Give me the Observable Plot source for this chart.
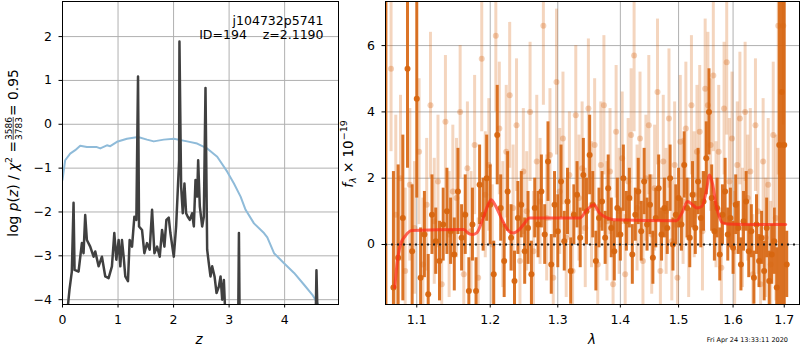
<!DOCTYPE html>
<html><head><meta charset="utf-8">
<script src="https://cdn.jsdelivr.net/npm/d3@7"></script>
<script src="https://cdn.jsdelivr.net/npm/@observablehq/plot@0.6"></script>
<style>
body{margin:0;background:#fff;}
#fig{position:relative;width:800px;height:350px;font-family:"DejaVu Sans",sans-serif;background:#fff;}
</style></head><body><div id="fig"></div>
<script>
// ---------- Left panel: log p(z) ----------
const pzZ = [0.09,0.126,0.168,0.199,0.217,0.289,0.349,0.379,0.409,0.439,0.499,0.560,0.590,0.650,0.710,0.770,0.830,0.890,0.933,0.969,1.011,1.041,1.071,1.101,1.131,1.179,1.209,1.252,1.294,1.330,1.360,1.378,1.432,1.474,1.522,1.570,1.613,1.655,1.703,1.751,1.793,1.835,1.871,1.913,1.943,2.004,2.046,2.076,2.100,2.106,2.136,2.166,2.196,2.226,2.256,2.292,2.334,2.365,2.395,2.425,2.443,2.473,2.515,2.545,2.575,2.605,2.635,2.665,2.695,2.738,2.774,2.816,2.846,2.876,2.906,2.930, null, 3.165,3.177,3.189, null, 4.561,4.573,4.591];
const pzLog = [-4.23,-3.77,-3.36,-1.79,-3.32,-3.36,-2.71,-2.94,-2.07,-2.64,-2.79,-3.02,-2.90,-3.24,-3.02,-3.47,-3.51,-3.24,-2.48,-3.09,-2.64,-3.24,-2.64,-3.02,-3.47,-3.58,-2.64,-2.79,-2.11,-2.18,1.09,-2.33,-2.41,-2.94,-2.71,-2.86,-1.95,-2.94,-2.79,-3.02,-2.41,-2.79,-2.18,-2.13,-2.48,-3.02,-2.33,-1.50,-0.82,1.89,-1.42,-2.03,-1.35,-2.03,-2.11,-2.18,-2.03,-2.33,-1.27,-1.65,-0.82,-1.88,-2.33,-2.11,0.83,-2.86,-3.17,-3.47,-3.24,-3.47,-3.85,-3.70,-3.47,-4.00,-3.55,-4.30, null, -4.3,-2.48,-4.3, null, -4.3,-3.33,-4.3];
const chiZ = [0,0.048,0.138,0.229,0.319,0.439,0.620,0.680,0.800,0.860,0.981,1.161,1.360,1.522,1.643,1.823,2.004,2.244,2.425,2.605,2.786,2.966,3.087,3.207,3.297,3.448,3.628,3.688,3.809,3.989,4.170,4.350,4.500,4.591,4.651];
const chiLog = [-1.27,-0.82,-0.67,-0.59,-0.49,-0.52,-0.52,-0.55,-0.48,-0.50,-0.40,-0.33,-0.29,-0.35,-0.39,-0.35,-0.33,-0.39,-0.44,-0.55,-0.74,-1.08,-1.35,-1.65,-1.95,-2.26,-2.48,-2.58,-2.94,-3.17,-3.39,-3.66,-3.89,-4.08,-4.23];
const zTicks = [0,1,2,3,4];
const pTicks = [-4,-3,-2,-1,0,1,2];
const titleLines = ["j104732p5741", "ID=194\u00a0\u00a0\u00a0\u00a0z=2.1190"];

// ---------- Right panel: spectrum ----------
const darkLam = [1.0605,1.070,1.076,1.082,1.088,1.094,1.100,1.105,1.110,1.115,1.120,1.125,1.130,1.135,1.140,1.145,1.150,1.155,1.160,1.165,1.170,1.175,1.180,1.185,1.190,1.195,1.200,1.205,1.210,1.215,1.220,1.225,1.230,1.235,1.240,1.245,1.250,1.255,1.260,1.265,1.270,1.275,1.280,1.285,1.290,1.295,1.300,1.305,1.310,1.315,1.320,1.325,1.330,1.335,1.340,1.345,1.350,1.355,1.360,1.365,1.370,1.375,1.380,1.385,1.390,1.395,1.400,1.405,1.410,1.415,1.420,1.425,1.430,1.435,1.440,1.445,1.450,1.455,1.460,1.465,1.470,1.475,1.480,1.485,1.490,1.495,1.500,1.505,1.510,1.515,1.520,1.525,1.530,1.535,1.540,1.545,1.550,1.555,1.560,1.565,1.570,1.575,1.580,1.585,1.590,1.595,1.600,1.605,1.610,1.615,1.620,1.625,1.630,1.635,1.640,1.645,1.650,1.655,1.660,1.665,1.670,1.675,1.680,1.685,1.690,1.695,1.700,1.705];
const darkFlux = [9.0,-1.3,-0.4,0.8,5.3,-0.2,4.4,-1.0,0.3,-1.5,0.9,0.1,-0.5,0.6,1.0,0.4,-0.3,1.6,0.2,0.9,-1.4,0.6,-1.4,1.8,0.9,2.0,1.2,-0.9,3.3,1.1,-0.5,1.6,0.2,-1.1,0.8,1.2,-0.2,0.5,-0.9,1.1,0.6,1.6,0.3,2.5,-0.6,1.2,0.4,1.9,0.1,1.3,-0.8,0.9,1.5,0.2,2.1,1.0,2.7,1.2,-0.5,0.8,1.3,0.2,1.7,0.5,-0.2,1.1,0.3,2.0,0.7,1.4,-0.3,0.9,1.6,0.4,1.9,0.6,1.2,-0.4,0.8,1.7,0.3,1.1,0.5,2.0,0.0,0.9,1.4,0.6,2.4,1.1,0.2,1.5,0.5,1.9,0.8,1.3,2.6,4.0,1.4,0.4,1.1,-0.3,0.9,1.6,0.3,0.8,-0.1,1.2,0.5,-0.6,0.7,1.3,-0.2,0.4,-1.0,0.6,-0.5,0.2,-0.8,0.5,-1.1,-0.3,0.1,-1.3,3.0,4.6,3.0,-0.6];
const darkErr = [12,3.5,2.8,2.5,3.0,2.0,3.0,1.5,1.3,1.2,1.2,1.0,1.2,1.1,1.3,1.0,1.1,1.3,1.0,1.2,1.0,1.1,1.0,1.2,1.1,1.3,1.2,1.0,1.5,1.0,1.1,1.2,1.0,0.9,1.1,1.0,1.0,1.1,1.0,0.9,1.0,1.1,0.9,1.2,0.9,1.0,1.1,1.1,0.9,1.0,1.0,0.9,1.0,0.9,1.1,1.0,1.2,1.0,0.9,0.9,0.9,0.8,1.0,0.9,0.9,0.9,0.8,1.0,0.9,0.9,0.9,0.8,1.0,0.9,1.0,0.8,0.9,0.8,0.9,1.0,0.8,0.9,0.8,1.0,0.8,0.9,0.9,0.8,1.0,0.9,0.9,1.0,0.8,1.0,0.9,0.9,1.1,1.3,1.0,0.9,0.9,0.8,0.9,1.0,0.8,0.9,0.8,0.9,0.8,0.8,0.9,0.9,0.8,0.8,0.8,0.9,0.8,0.8,0.9,0.9,0.9,0.9,1.0,1.2,6.0,6.5,6.0,1.0];
const lightLam = [1.067,1.073,1.079,1.085,1.091,1.097,1.103,1.108,1.113,1.118,1.123,1.128,1.133,1.138,1.143,1.148,1.153,1.158,1.163,1.168,1.173,1.178,1.183,1.188,1.193,1.198,1.203,1.208,1.213,1.218,1.223,1.228,1.233,1.238,1.243,1.248,1.253,1.258,1.263,1.268,1.273,1.278,1.283,1.288,1.293,1.298,1.303,1.308,1.313,1.318,1.323,1.328,1.333,1.338,1.343,1.348,1.353,1.358,1.363,1.368,1.373,1.378,1.383,1.388,1.393,1.398,1.403,1.408,1.413,1.418,1.423,1.428,1.433,1.438,1.443,1.448,1.453,1.458,1.463,1.468,1.473,1.478,1.483,1.488,1.493,1.498,1.503,1.508,1.513,1.518,1.523,1.528,1.533,1.538,1.543,1.548,1.553,1.558,1.563,1.568,1.573,1.578,1.583,1.588,1.593,1.598,1.603,1.608,1.613,1.618,1.623,1.628,1.633,1.638,1.643,1.648,1.653,1.658,1.663,1.668,1.673,1.678,1.683,1.688,1.693,1.698];
const lightFlux = [5.3,0.9,2.0,-0.8,1.8,0.5,2.8,-0.6,1.2,4.2,0.7,1.9,-1.2,3.7,0.3,1.6,1.4,4.0,-0.9,2.3,0.4,3.0,-1.0,5.6,1.5,2.4,0.0,6.3,3.5,0.6,2.8,4.5,1.1,3.6,-0.5,2.2,1.0,4.0,-0.2,2.5,1.3,6.6,0.8,2.7,-1.0,4.9,1.6,3.2,0.2,2.1,-0.8,3.9,1.4,2.3,0.5,4.1,1.2,3.0,-0.6,2.4,4.2,0.7,2.2,-1.2,3.4,1.0,2.6,-0.9,1.9,3.3,5.7,1.1,3.2,-0.5,2.0,3.6,0.3,1.7,4.6,-0.8,2.5,1.0,3.8,0.1,2.4,-1.0,3.1,1.3,3.5,0.2,4.2,1.5,2.8,3.4,0.4,4.7,4.2,3.0,5.1,1.2,2.8,-0.7,4.1,5.5,1.9,3.2,-0.2,2.4,3.8,0.5,4.0,1.4,2.2,-0.9,3.6,1.0,-1.2,2.5,0.2,1.8,-0.6,3.3,0.8,6.6,3.0,6.6];
const lightErr = [2.5,3.0,2.5,2.5,2.3,2.0,2.2,2.0,2.0,2.2,1.9,2.0,1.8,2.0,1.9,2.0,1.8,2.0,1.9,2.0,1.8,2.1,1.8,2.2,1.9,2.0,1.8,2.3,2.0,1.9,2.0,2.2,1.9,2.0,1.8,1.9,1.8,2.1,1.8,2.0,1.9,2.4,1.9,2.0,1.8,2.2,1.9,2.0,1.8,1.9,1.8,2.1,1.9,2.0,1.8,2.1,1.9,2.0,1.8,1.9,2.1,1.8,1.9,1.8,2.0,1.9,2.0,1.8,1.9,2.0,2.3,1.9,2.0,1.8,1.9,2.1,1.8,1.9,2.2,1.8,2.0,1.9,2.1,1.8,1.9,1.8,2.0,1.9,2.0,1.8,2.1,1.9,2.0,2.0,1.8,2.1,2.2,2.0,2.3,1.9,2.0,1.8,2.0,2.2,1.9,2.0,1.8,1.9,2.0,1.8,2.1,1.9,1.9,1.8,2.0,1.9,1.8,1.9,1.8,2.0,1.9,2.2,2.5,4.5,5.0,3.0];
const modelLam = [1.0717,1.075,1.079,1.085,1.0935,1.163,1.170,1.175,1.181,1.190,1.197,1.2013,1.208,1.218,1.227,1.233,1.242,1.250,1.257,1.3345,1.344,1.3566,1.366,1.378,1.389,1.496,1.506,1.516,1.525,1.533,1.542,1.550,1.556,1.562,1.568,1.575,1.580,1.590,1.703];
const modelFlux = [-1.3,-0.5,0.0,0.25,0.42,0.45,0.33,0.3,0.35,0.8,1.2,1.35,1.15,0.7,0.4,0.35,0.45,0.65,0.8,0.8,1.0,1.2,0.95,0.8,0.75,0.72,0.95,1.3,1.2,1.1,1.15,1.6,2.1,1.8,1.2,0.8,0.65,0.62,0.6];
const lamTicks = [1.1,1.2,1.3,1.4,1.5,1.6,1.7];
const fTicks = [0,2,4,6];
const zeroLevel = [0];

const dark = darkLam.map((l,i)=>({l, f: darkFlux[i], lo: darkFlux[i]-darkErr[i], hi: darkFlux[i]+darkErr[i]}));
const light = lightLam.map((l,i)=>({l, f: lightFlux[i], lo: lightFlux[i]-lightErr[i], hi: lightFlux[i]+lightErr[i]}));
const model = modelLam.map((l,i)=>({l, f: modelFlux[i]}));
const pz = pzZ.map((z,i)=>({z, v: pzLog[i]}));
const chi = chiZ.map((z,i)=>({z, v: chiLog[i]}));

const ORANGE = "#d7650f";
const fig = document.getElementById("fig");
const fmtInt = d3.format("d");

const leftPlot = Plot.plot({
  width: 345, height: 350,
  marginLeft: 62, marginRight: 7, marginTop: 1, marginBottom: 46,
  style: {fontSize: "12.5px", fontFamily: "DejaVu Sans", background: "transparent", position: "absolute", left: "0px", top: "0px", overflow: "visible"},
  x: {domain: [0, 4.97], ticks: zTicks, tickFormat: fmtInt, label: null, tickSize: 3.5, tickPadding: 7.5},
  y: {domain: [-4.11, 2.8], ticks: pTicks, tickFormat: fmtInt, label: null, tickSize: 3.5, tickPadding: 7},
  marks: [
    Plot.ruleX(zTicks, {stroke: "#b0b0b0", strokeWidth: 1}),
    Plot.ruleY(pTicks, {stroke: "#b0b0b0", strokeWidth: 1}),
    Plot.line(chi, {x: "z", y: "v", stroke: "#8fbbd9", strokeWidth: 2, clip: true}),
    Plot.line(pz, {x: "z", y: "v", stroke: "#404040", strokeWidth: 2.5, clip: true}),
    Plot.text([titleLines[0]], {frameAnchor: "top-right", dx: -15, dy: 23, lineAnchor: "bottom", textAnchor: "end", fontSize: 12.5, fill: "black"}),
    Plot.text([titleLines[1]], {frameAnchor: "top-right", dx: -15, dy: 37.5, lineAnchor: "bottom", textAnchor: "end", fontSize: 12.5, fill: "black"}),
    Plot.frame({stroke: "black", strokeWidth: 1})
  ]
});

const rightPlot = Plot.plot({
  width: 460, height: 350,
  marginLeft: 45, marginRight: 1, marginTop: 1, marginBottom: 46,
  style: {fontSize: "12.5px", fontFamily: "DejaVu Sans", background: "transparent", position: "absolute", left: "340px", top: "0px", overflow: "visible"},
  x: {type: "log", domain: [1.06, 1.731], ticks: lamTicks, tickFormat: d3.format(".1f"), label: null, tickSize: 3.5, tickPadding: 7.5},
  y: {domain: [-1.81, 7.33], ticks: fTicks, tickFormat: fmtInt, label: null, tickSize: 3.5, tickPadding: 7},
  marks: [
    Plot.ruleX(lamTicks, {stroke: "#b0b0b0", strokeWidth: 1}),
    Plot.ruleY(fTicks, {stroke: "#b0b0b0", strokeWidth: 1}),
    Plot.ruleX(light, {x: "l", y1: "lo", y2: "hi", stroke: ORANGE, strokeOpacity: 0.27, strokeWidth: 3, clip: true}),
    Plot.dot(light, {x: "l", y: "f", r: 3, fill: ORANGE, fillOpacity: 0.3, stroke: "none", clip: true}),
    Plot.ruleX(dark, {x: "l", y1: "lo", y2: "hi", stroke: ORANGE, strokeOpacity: 0.9, strokeWidth: 3, clip: true}),
    Plot.dot(dark, {x: "l", y: "f", r: 3, fill: ORANGE, fillOpacity: 0.95, stroke: "none", clip: true}),
    Plot.line(model, {x: "l", y: "f", stroke: "#ff2a1a", strokeOpacity: 0.7, strokeWidth: 3, curve: "monotone-x", clip: true}),
    Plot.ruleY(zeroLevel, {stroke: "#1a1a1a", strokeWidth: 2, strokeDasharray: "2,4"}),
    Plot.frame({stroke: "black", strokeWidth: 1})
  ]
});

fig.appendChild(rightPlot);
fig.appendChild(leftPlot);

// ---------- Axis labels overlay ----------
const ov = d3.select(fig).append("svg")
  .attr("width", 800).attr("height", 350)
  .style("position", "absolute").style("left", "0px").style("top", "0px")
  .style("pointer-events", "none")
  .attr("font-family", "DejaVu Sans").style("white-space", "pre");

ov.append("text").attr("x", 199).attr("y", 344).attr("text-anchor", "middle")
  .attr("font-size", 13.5).attr("font-style", "italic").text("z");
ov.append("text").attr("x", 592).attr("y", 344).attr("text-anchor", "middle")
  .attr("font-size", 13.5).attr("font-style", "italic").text("λ");
ov.append("text").attr("x", 788).attr("y", 342).attr("text-anchor", "end")
  .attr("font-size", 6.5).text("Fri Apr 24 13:33:11 2020");

// left y label
const gL = ov.append("g").attr("font-size", 13.8);
const t1 = gL.append("text").attr("x", 0).attr("y", 0);
t1.append("tspan").text("log ");
t1.append("tspan").attr("font-style", "italic").text("p");
t1.append("tspan").text("(");
t1.append("tspan").attr("font-style", "italic").text("z");
t1.append("tspan").text(") / ");
t1.append("tspan").attr("font-style", "italic").text("χ");
t1.append("tspan").attr("dy", -5.5).attr("font-size", 9.5).text("2");
t1.append("tspan").attr("dy", 5.5).text(" = ");
const len1 = t1.node().getComputedTextLength();
const num = gL.append("text").attr("font-size", 9).attr("text-anchor", "middle").text("3586");
const den = gL.append("text").attr("font-size", 9).attr("text-anchor", "middle").text("3783");
const fw = Math.max(num.node().getComputedTextLength(), den.node().getComputedTextLength());
const fc = len1 + 1 + fw / 2;
num.attr("x", fc).attr("y", -6);
den.attr("x", fc).attr("y", 4);
gL.append("line").attr("x1", len1 + 1).attr("x2", len1 + 1 + fw).attr("y1", -4.3).attr("y2", -4.3)
  .attr("stroke", "black").attr("stroke-width", 0.7);
const t3 = gL.append("text").attr("x", len1 + fw + 2).attr("y", 0).text(" = 0.95");
const L = len1 + fw + 2 + t3.node().getComputedTextLength();
gL.attr("transform", `translate(17.5,${153 + L / 2}) rotate(-90)`);

// right y label
const gR = ov.append("g").attr("transform", "translate(352.5,154) rotate(-90)").attr("font-size", 13.5);
const tr = gR.append("text").attr("text-anchor", "middle");
tr.append("tspan").attr("font-style", "italic").text("f");
tr.append("tspan").attr("dy", 3).attr("font-size", 9.5).attr("font-style", "italic").text("λ");
tr.append("tspan").attr("dy", -3).text(" × 10");
tr.append("tspan").attr("dy", -5.5).attr("font-size", 9.5).text("−19");
</script></body></html>
